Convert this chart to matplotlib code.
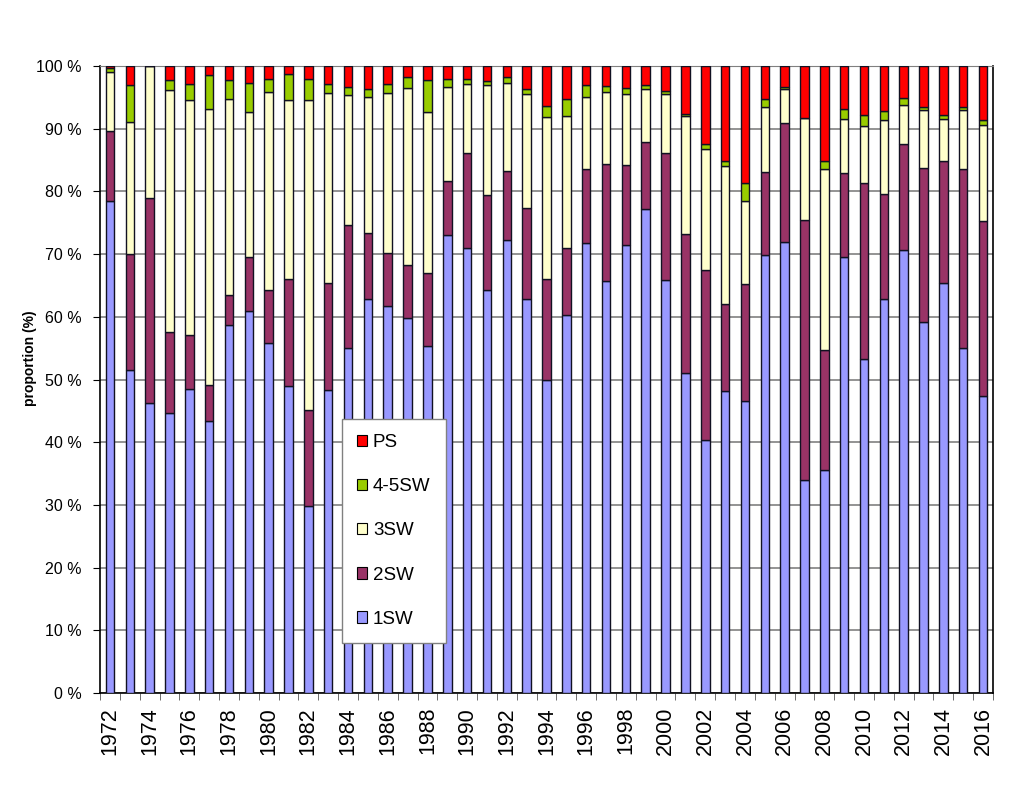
"""
Sea-age composition per year, stacked to 100 %
"""

import numpy as np
import matplotlib
matplotlib.use('Agg')
from matplotlib import pyplot as plt
from matplotlib.patches import Patch

plt.rcParams['font.family'] = ['Liberation Sans', 'DejaVu Sans']

years = list(range(1972, 2017))

# cumulative tops (%), then turned into shares
top_1sw = [78.5, 51.5, 46.2, 44.6, 48.5, 43.4, 58.7, 61.0, 55.8, 48.9,
           29.9, 48.3, 55.1, 62.8, 61.7, 59.8, 55.4, 73.0, 71.0, 64.3,
           72.3, 62.8, 49.9, 60.3, 71.8, 65.7, 71.5, 77.2, 65.9, 51.1,
           40.4, 48.2, 46.5, 69.9, 71.9, 34.0, 35.6, 69.6, 53.3, 62.8,
           70.7, 59.1, 65.4, 55.0, 47.3]
top_2sw = [89.6, 70.0, 78.9, 57.6, 57.1, 49.1, 63.5, 69.6, 64.3, 66.1,
           45.1, 65.4, 74.7, 73.4, 70.1, 68.3, 67.0, 81.7, 86.1, 79.5,
           83.3, 77.3, 66.1, 70.9, 83.5, 84.4, 84.2, 87.8, 86.1, 73.2,
           67.5, 62.1, 65.2, 83.1, 90.9, 75.4, 54.7, 82.9, 81.3, 79.6,
           87.5, 83.8, 84.9, 83.5, 75.3]
top_3sw = [99.1, 91.0, 100.0, 96.2, 94.5, 93.2, 94.7, 92.6, 95.9, 94.5,
           94.5, 95.7, 95.3, 95.1, 95.7, 96.5, 92.7, 96.7, 97.2, 97.0,
           97.3, 95.5, 91.8, 92.0, 95.0, 95.9, 95.5, 96.3, 95.5, 92.0,
           86.8, 84.0, 78.4, 93.4, 96.3, 91.7, 83.5, 91.5, 90.4, 91.4,
           93.8, 93.0, 91.6, 93.0, 90.6]
top_45sw = [99.7, 97.0, 100.0, 97.8, 97.1, 98.6, 97.7, 97.3, 98.0, 98.8,
            98.0, 97.2, 96.7, 96.3, 97.2, 98.2, 97.8, 98.0, 97.9, 97.6,
            98.2, 96.3, 93.6, 94.8, 96.9, 96.8, 96.5, 96.9, 96.0, 92.4,
            87.5, 84.9, 81.4, 94.7, 96.6, 91.7, 84.8, 93.2, 92.2, 92.8,
            94.9, 93.4, 92.2, 93.4, 91.4]

sw1 = np.array(top_1sw)
sw2 = np.array(top_2sw) - np.array(top_1sw)
sw3 = np.array(top_3sw) - np.array(top_2sw)
sw45 = np.array(top_45sw) - np.array(top_3sw)
ps = 100 - np.array(top_45sw)

series = [('1SW', sw1, '#9999FF'),
          ('2SW', sw2, '#993366'),
          ('3SW', sw3, '#FFFFCC'),
          ('4-5SW', sw45, '#99CC00'),
          ('PS', ps, '#FF0000')]


def main():
    fig = plt.figure(figsize=(10.23, 7.98), dpi=100)
    ax = fig.add_axes([100 / 1023, 105 / 798, 893 / 1023, 627 / 798])

    x = np.arange(len(years))
    bottom = np.zeros(len(years))
    for name, vals, col in series:
        ax.bar(x, vals, bottom=bottom, width=0.43, color=col,
               edgecolor='#111122', lw=1.0, label=name, zorder=3)
        bottom += vals

    ax.set_xlim(-0.5, len(years) - 0.5)
    ax.set_ylim(0, 100)
    ax.set_yticks(np.arange(0, 101, 10))
    ax.set_yticklabels([f'{v} %' for v in range(0, 101, 10)], fontsize=11.5)
    ax.grid(axis='y', color='#808080', lw=1.2, zorder=0)

    ax.set_xticks(x[::2])
    ax.set_xticklabels([str(y) for y in years[::2]], rotation=90, fontsize=15.5)
    ax.set_xticks(np.arange(-0.5, len(years), 1), minor=True)
    ax.tick_params(axis='x', which='major', length=0, pad=10)
    ax.tick_params(axis='x', which='minor', length=5, direction='out', color='#555555')
    ax.tick_params(axis='y', length=5, direction='out', pad=8)

    for s in ['left', 'bottom', 'right']:
        ax.spines[s].set_color('black')
        ax.spines[s].set_linewidth(1.2)
    ax.spines['top'].set_color('#808080')

    fig.text(30 / 1023, 1 - 358 / 798, 'proportion (%)', rotation=90,
             fontsize=10, fontweight='bold', ha='center', va='center')

    handles = [Patch(facecolor=col, edgecolor='black', lw=0.8)
               for _, _, col in reversed(series)]
    labels = [name for name, _, _ in reversed(series)]
    leg = fig.legend(handles, labels, loc='upper left',
                     bbox_to_anchor=(342 / 1023, 1 - 419 / 798),
                     fontsize=13.5, fancybox=False, framealpha=1,
                     edgecolor='#808080', handlelength=0.55, handleheight=0.55,
                     handletextpad=0.3, labelspacing=1.45, borderpad=0.8,
                     borderaxespad=0)
    leg.get_frame().set_linewidth(1.0)

    fig.savefig('out.png', dpi=100)


if __name__ == '__main__':
    main()
